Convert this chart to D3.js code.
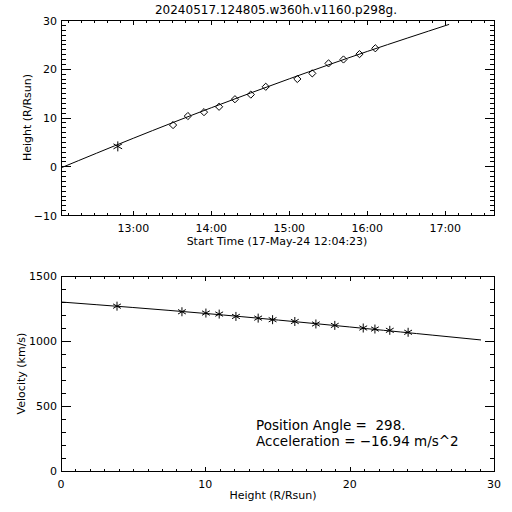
<!DOCTYPE html>
<html>
<head>
<meta charset="utf-8">
<script src="https://cdn.jsdelivr.net/npm/d3@7"></script>
<style>
  html, body { margin: 0; padding: 0; background: #fff; }
  svg { display: block; }
  text { font-family: "DejaVu Sans", sans-serif; fill: #000; }
</style>
</head>
<body>
<svg id="chart" width="512" height="512"></svg>
<script>
// ---------- data ----------
const title = "20240517.124805.w360h.v1160.p298g.";
const startTimeLabel = "Start Time (17-May-24 12:04:23)";
const axisStart = "2024-05-17 12:04:23";
const axisEnd = "2024-05-17 17:37:30";

// measured height-time points
const obsTimes = ["12:48:05","13:30:36","13:42:00","13:54:24","14:06:00","14:18:12","14:30:24",
                  "14:41:54","15:06:12","15:17:42","15:30:12","15:41:42","15:54:00","16:06:12"];
const obsHeights = [4.08, 8.45, 10.3, 11.1, 12.2, 13.75, 14.7, 16.3, 17.9, 19.05, 21.1, 21.9, 23.0, 24.2];
const obsSymbols = ["asterisk","diamond","diamond","diamond","diamond","diamond","diamond",
                    "diamond","diamond","diamond","diamond","diamond","diamond","diamond"];

// fitted height-time curve
const fitTimes = ["12:04:23","13:00:00","14:00:00","15:00:00","16:00:00","17:03:00"];
const fitHeights = [-0.33, 5.74, 12.0, 17.93, 23.55, 29.1];

// velocity vs height points
const velHeights = [3.88, 8.38, 10.04, 10.96, 12.12, 13.66, 14.66, 16.2, 17.66, 18.97, 20.94, 21.75, 22.78, 24.05];
const velValues = [1268, 1225, 1215, 1207, 1189, 1176, 1164, 1150, 1131, 1120, 1100, 1092, 1082, 1067];

// fitted velocity curve
const velFitHeights = [0, 10, 20, 29.1];
const velFitValues = [1300, 1212, 1108, 1008];

// axis ticks
const hTicks = [-10, 0, 10, 20, 30];
const vTicks = [0, 500, 1000, 1500];
const rTicks = [0, 10, 20, 30];
const hourTicks = ["13:00:00","14:00:00","15:00:00","16:00:00","17:00:00"];

const annotation1 = "Position Angle =  298.";
const annotation2 = "Acceleration = \u221216.94 m/s^2";

// ---------- layout ----------
const svg = d3.select("#chart");
const L = 61, R = 494;
const top1 = 20, bot1 = 215;
const top2 = 276, bot2 = 471;
const day = "2024-05-17 ";
const parse = d3.utcParse("%Y-%m-%d %H:%M:%S");
const T = s => parse(day + s);

const x1 = d3.scaleUtc().domain([parse(axisStart), parse(axisEnd)]).range([L, R]);
const y1 = d3.scaleLinear().domain([-10, 30]).range([bot1, top1]);
const x2 = d3.scaleLinear().domain([0, 30]).range([L, R]);
const y2 = d3.scaleLinear().domain([0, 1500]).range([bot2, top2]);

const majX = 4, minX = 2, majY = 9, minY = 4;

function xTickMarks(scale, values, yTop, yBot, len) {
  const g = svg.append("g").attr("fill", "#000");
  values.forEach(v => {
    const px = Math.round(scale(v));
    g.append("rect").attr("x", px).attr("y", yBot - len).attr("width", 1).attr("height", len + 1);
    g.append("rect").attr("x", px).attr("y", yTop).attr("width", 1).attr("height", len + 1);
  });
}
function yTickMarks(scale, values, xL, xR, len) {
  const g = svg.append("g").attr("fill", "#000");
  values.forEach(v => {
    const py = Math.round(scale(v));
    g.append("rect").attr("x", xL).attr("y", py).attr("width", len + 1).attr("height", 1);
    g.append("rect").attr("x", xR - len).attr("y", py).attr("width", len + 1).attr("height", 1);
  });
}
function drawFrame(t, b) {
  svg.append("rect").attr("x", L + 0.5).attr("y", t + 0.5).attr("width", R - L).attr("height", b - t)
    .attr("fill", "none").attr("stroke", "#000").attr("stroke-width", 1);
}
function asteriskPath(s) {
  const d = s * 0.866, e = s * 0.5;
  return `M0,${-s}L0,${s}M${-d},${-e}L${d},${e}M${-d},${e}L${d},${-e}`;
}
function diamondPath(s) {
  return `M0,${-s}L${s},0L0,${s}L${-s},0Z`;
}

// ---------- top panel ----------
const hourDates = hourTicks.map(T);
const minuteDates = d3.utcMinute.every(10).range(parse(axisStart), parse(axisEnd));
const hMinor = d3.range(-10, 31, 1);

drawFrame(top1, bot1);
xTickMarks(x1, minuteDates, top1, bot1, minX);
xTickMarks(x1, hourDates, top1, bot1, majX);
yTickMarks(y1, hMinor, L, R, minY);
yTickMarks(y1, hTicks, L, R, majY);

const fitData = fitTimes.map((t, i) => [T(t), fitHeights[i]]);
svg.append("path").datum(fitData)
  .attr("d", d3.line().x(d => x1(d[0])).y(d => y1(d[1])).curve(d3.curveNatural))
  .attr("fill", "none").attr("stroke", "#000").attr("stroke-width", 1);

svg.append("g").selectAll("path").data(obsTimes.map((t, i) => ({t: T(t), h: obsHeights[i], s: obsSymbols[i]})))
  .join("path")
  .attr("transform", d => `translate(${x1(d.t)},${y1(d.h)})`)
  .attr("d", d => d.s === "asterisk" ? asteriskPath(5) : diamondPath(3.6))
  .attr("fill", "none").attr("stroke", "#000").attr("stroke-width", 1);

const fmtHour = d3.utcFormat("%H:%M");
svg.append("g").selectAll("text").data(hourDates).join("text")
  .attr("x", d => x1(d)).attr("y", bot1 + 17).attr("text-anchor", "middle")
  .attr("font-size", 11).text(d => fmtHour(d));
svg.append("g").selectAll("text").data(hTicks).join("text")
  .attr("x", L - 4).attr("y", d => y1(d) + 4.5).attr("text-anchor", "end")
  .attr("font-size", 11).text(d => d < 0 ? "\u2212" + Math.abs(d) : d);

svg.append("text").attr("x", 276).attr("y", 14).attr("text-anchor", "middle")
  .attr("font-size", 12).text(title);
svg.append("text").attr("x", 277).attr("y", 245).attr("text-anchor", "middle")
  .attr("font-size", 11).text(startTimeLabel);
svg.append("text").attr("transform", `translate(31,${(top1 + bot1) / 2}) rotate(-90)`)
  .attr("text-anchor", "middle").attr("font-size", 11).text("Height (R/Rsun)");

// ---------- bottom panel ----------
const rMinor = d3.range(0, 31, 1);
const vMinor = d3.range(0, 1501, 100);

drawFrame(top2, bot2);
xTickMarks(x2, rMinor, top2, bot2, minX);
xTickMarks(x2, rTicks, top2, bot2, majX);
yTickMarks(y2, vMinor, L, R, minY);
yTickMarks(y2, vTicks, L, R, majY);

const velFit = velFitHeights.map((h, i) => [h, velFitValues[i]]);
svg.append("path").datum(velFit)
  .attr("d", d3.line().x(d => x2(d[0])).y(d => y2(d[1])).curve(d3.curveNatural))
  .attr("fill", "none").attr("stroke", "#000").attr("stroke-width", 1);

svg.append("g").selectAll("path").data(velHeights.map((h, i) => [h, velValues[i]]))
  .join("path")
  .attr("transform", d => `translate(${x2(d[0])},${y2(d[1])})`)
  .attr("d", asteriskPath(4.5))
  .attr("fill", "none").attr("stroke", "#000").attr("stroke-width", 1);

svg.append("g").selectAll("text").data(rTicks).join("text")
  .attr("x", d => x2(d)).attr("y", bot2 + 17).attr("text-anchor", "middle")
  .attr("font-size", 11).text(d => d3.format("d")(d));
svg.append("g").selectAll("text").data(vTicks).join("text")
  .attr("x", L - 4).attr("y", d => y2(d) + 4).attr("text-anchor", "end")
  .attr("font-size", 11).text(d => d3.format("d")(d));

svg.append("text").attr("x", 273).attr("y", 499).attr("text-anchor", "middle")
  .attr("font-size", 11).text("Height (R/Rsun)");
svg.append("text").attr("transform", `translate(25,${(top2 + bot2) / 2}) rotate(-90)`)
  .attr("text-anchor", "middle").attr("font-size", 11).text("Velocity (km/s)");

svg.append("text").attr("x", 256).attr("y", 430).attr("font-size", 13.5)
  .style("white-space", "pre").text(annotation1);
svg.append("text").attr("x", 256).attr("y", 446).attr("font-size", 13.5).text(annotation2);
</script>
</body>
</html>
